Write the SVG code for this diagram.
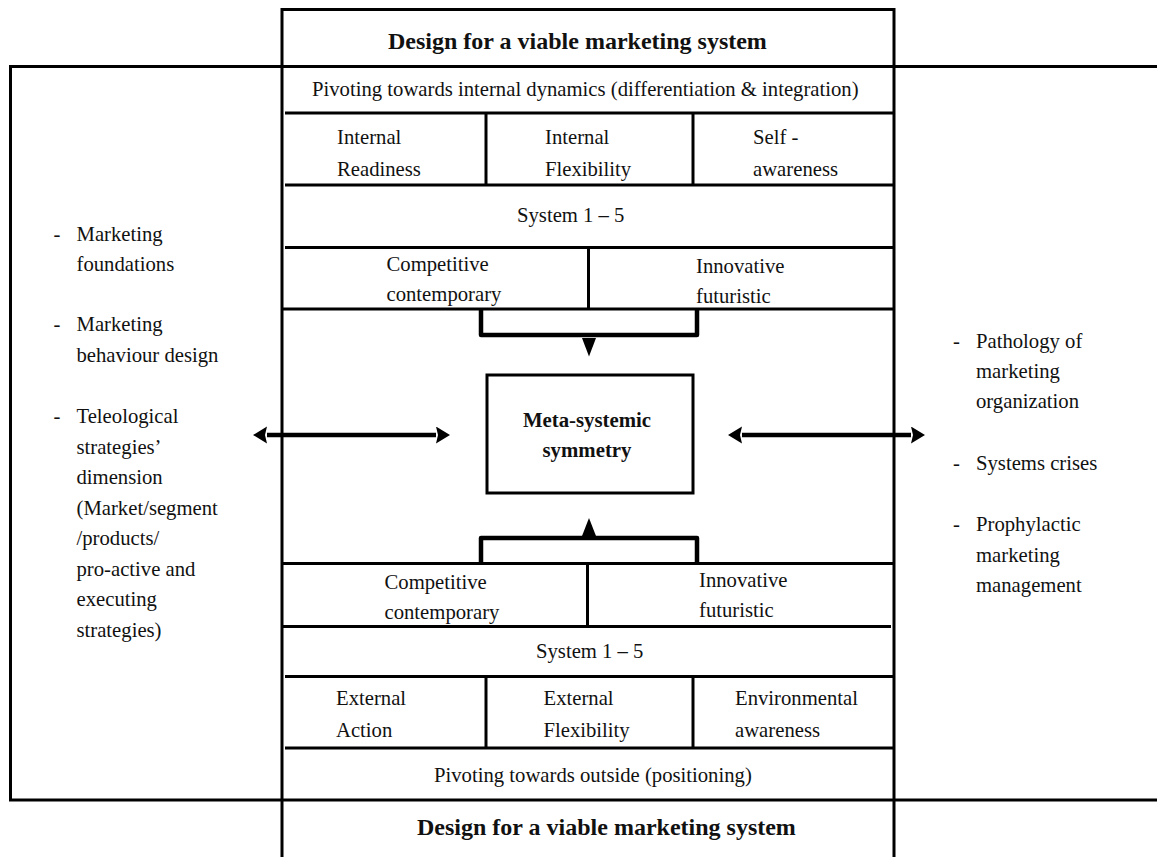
<svg xmlns="http://www.w3.org/2000/svg" width="1157" height="857" viewBox="0 0 1157 857">
  <style>
    .frame { fill: none; stroke: #000; stroke-width: 3; }
    .rule { stroke: #000; stroke-width: 3; fill: none; }
    .t { font-family: "Liberation Serif", "Times New Roman", serif; font-size: 20.7px; fill: #111; }
    .b { font-family: "Liberation Serif", "Times New Roman", serif; font-weight: bold; fill: #111; }
    .title { font-size: 24px; }
    .meta { font-size: 20.8px; text-anchor: middle; }
    .bracket { fill: none; stroke: #000; stroke-width: 4.5; stroke-linejoin: round; }
    .shaft { stroke: #000; stroke-width: 4.5; fill: none; }
    .head { fill: #000; }
  </style>
  <defs>
    <marker id="tip" markerUnits="userSpaceOnUse" markerWidth="15" markerHeight="18" refX="0" refY="8.5" orient="auto-start-reverse">
      <path d="M0,0 L14,8.5 L0,17 L2,8.5 Z" fill="#000"/>
    </marker>
  </defs>

  <rect width="1157" height="857" fill="#fff"/>

  <!-- outer frame: open to the right edge -->
  <g id="outer-frame">
    <rect class="frame" x="10.5" y="66.5" width="1160" height="733.5"/>
  </g>

  <!-- left side list -->
  <g id="left-list">
    <text class="t" x="53.5" y="240.5">-</text>
    <text class="t" x="76.5" y="240.5">Marketing</text>
    <text class="t" x="76.5" y="270.5">foundations</text>
    <text class="t" x="53.5" y="331">-</text>
    <text class="t" x="76.5" y="331">Marketing</text>
    <text class="t" x="76.5" y="361.5">behaviour design</text>
    <text class="t" x="53.5" y="423">-</text>
    <text class="t" x="76.5" y="423">Teleological</text>
    <text class="t" x="76.5" y="453.5">strategies’</text>
    <text class="t" x="76.5" y="484">dimension</text>
    <text class="t" x="76.5" y="514.5">(Market/segment</text>
    <text class="t" x="76.5" y="545">/products/</text>
    <text class="t" x="76.5" y="575.5">pro-active and</text>
    <text class="t" x="76.5" y="606">executing</text>
    <text class="t" x="76.5" y="636.5">strategies)</text>
  </g>

  <!-- right side list -->
  <g id="right-list">
    <text class="t" x="953" y="348">-</text>
    <text class="t" x="976" y="348">Pathology of</text>
    <text class="t" x="976" y="378">marketing</text>
    <text class="t" x="976" y="408">organization</text>
    <text class="t" x="953" y="470">-</text>
    <text class="t" x="976" y="470">Systems crises</text>
    <text class="t" x="953" y="531">-</text>
    <text class="t" x="976" y="531">Prophylactic</text>
    <text class="t" x="976" y="561.5">marketing</text>
    <text class="t" x="976" y="592">management</text>
  </g>

  <!-- central column -->
  <g id="column">
    <path class="rule" d="M282,860 V9.5 H894 V860"/>
  </g>

  <g id="title-top">
    <line class="rule" x1="282" y1="66.5" x2="894" y2="66.5"/>
    <text class="b title" x="388" y="49">Design for a viable marketing system</text>
  </g>

  <g id="pivot-internal">
    <line class="rule" x1="285" y1="113" x2="894" y2="113"/>
    <text class="t" x="312" y="96">Pivoting towards internal dynamics (differentiation &amp; integration)</text>
  </g>

  <g id="internal-row">
    <line class="rule" x1="285" y1="185" x2="894" y2="185"/>
    <line class="rule" x1="486" y1="113" x2="486" y2="185"/>
    <line class="rule" x1="693" y1="113" x2="693" y2="185"/>
    <text class="t" x="337" y="144">Internal</text>
    <text class="t" x="337" y="175.5">Readiness</text>
    <text class="t" x="545" y="144">Internal</text>
    <text class="t" x="545" y="175.5">Flexibility</text>
    <text class="t" x="753" y="144">Self -</text>
    <text class="t" x="753" y="175.5">awareness</text>
  </g>

  <g id="system-top">
    <line class="rule" x1="285" y1="247.5" x2="894" y2="247.5"/>
    <text class="t" x="517" y="221.5">System 1 – 5</text>
  </g>

  <g id="orientation-top">
    <line class="rule" x1="282" y1="309" x2="894" y2="309"/>
    <line class="rule" x1="588.5" y1="247.5" x2="588.5" y2="309"/>
    <text class="t" x="386.5" y="271">Competitive</text>
    <text class="t" x="386.5" y="301">contemporary</text>
    <text class="t" x="696" y="272.5">Innovative</text>
    <text class="t" x="696" y="302.5">futuristic</text>
  </g>

  <g id="meta-systemic-symmetry">
    <rect class="frame" x="487" y="375" width="206" height="118"/>
    <text class="b meta" x="587" y="426.5">Meta-systemic</text>
    <text class="b meta" x="587" y="456.5">symmetry</text>
  </g>

  <g id="orientation-bottom">
    <line class="rule" x1="282" y1="563.5" x2="894" y2="563.5"/>
    <line class="rule" x1="282" y1="626.5" x2="891" y2="626.5"/>
    <line class="rule" x1="587.5" y1="563.5" x2="587.5" y2="626.5"/>
    <text class="t" x="384.5" y="588.5">Competitive</text>
    <text class="t" x="384.5" y="618.5">contemporary</text>
    <text class="t" x="699" y="587">Innovative</text>
    <text class="t" x="699" y="617">futuristic</text>
  </g>

  <g id="system-bottom">
    <line class="rule" x1="285" y1="676.5" x2="894" y2="676.5"/>
    <text class="t" x="536" y="658">System 1 – 5</text>
  </g>

  <g id="external-row">
    <line class="rule" x1="285" y1="748" x2="894" y2="748"/>
    <line class="rule" x1="486" y1="676.5" x2="486" y2="748"/>
    <line class="rule" x1="693" y1="676.5" x2="693" y2="748"/>
    <text class="t" x="336" y="705">External</text>
    <text class="t" x="336" y="737">Action</text>
    <text class="t" x="543.5" y="705">External</text>
    <text class="t" x="543.5" y="737">Flexibility</text>
    <text class="t" x="735" y="705">Environmental</text>
    <text class="t" x="735" y="737">awareness</text>
  </g>

  <g id="pivot-outside">
    <text class="t" x="434" y="782">Pivoting towards outside (positioning)</text>
  </g>

  <g id="title-bottom">
    <text class="b title" x="417" y="835">Design for a viable marketing system</text>
  </g>

  <!-- connectors -->
  <g id="connectors">
    <path class="bracket" d="M481,309 V335 H697 V309"/>
    <polygon class="head" points="582,338 596,338 589,356.5"/>
    <path class="bracket" d="M481,563.5 V538 H697 V563.5"/>
    <polygon class="head" points="582,536 596,536 589,518"/>
    <path class="shaft" d="M267,435 H436" marker-start="url(#tip)" marker-end="url(#tip)"/>
    <path class="shaft" d="M742,435 H911" marker-start="url(#tip)" marker-end="url(#tip)"/>
  </g>
</svg>
